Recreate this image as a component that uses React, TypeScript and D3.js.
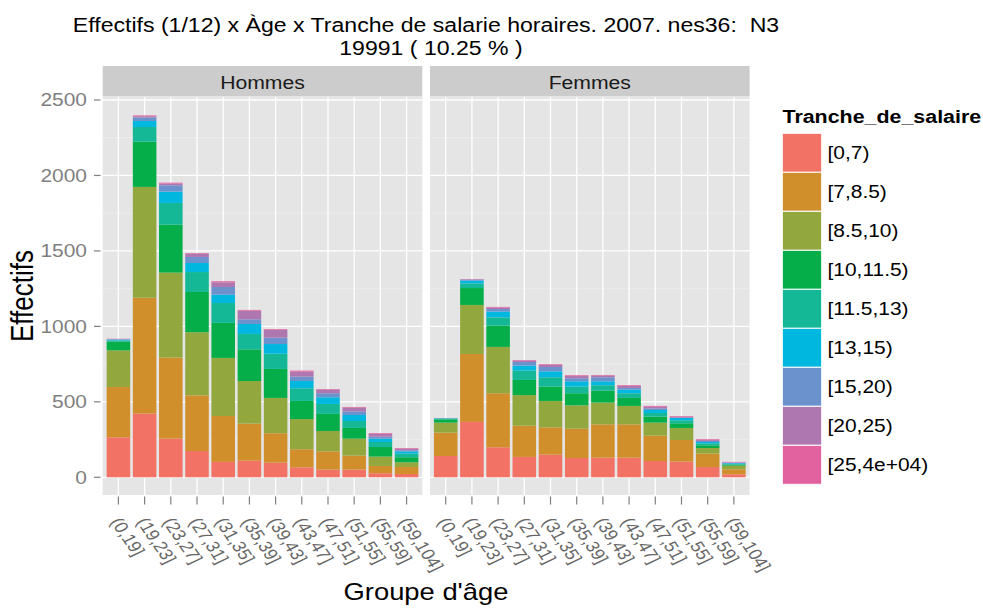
import React from "react";
import * as d3 from "d3";

const ageGroups = ["(0,19]", "(19,23]", "(23,27]", "(27,31]", "(31,35]", "(35,39]", "(39,43]", "(43,47]", "(47,51]", "(51,55]", "(55,59]", "(59,104]"];
const bands = ["[0,7)", "[7,8.5)", "[8.5,10)", "[10,11.5)", "[11.5,13)", "[13,15)", "[15,20)", "[20,25)", "[25,4e+04)"];
const sexes = ["Hommes", "Femmes"];
const yTicks = [0, 500, 1000, 1500, 2000, 2500];
const yMinor = [250, 750, 1250, 1750, 2250];

// Hommes, one array per salary band, in age-group order
const hommes_0_7 = [265, 422, 256, 174, 102, 110, 97, 66, 51, 51, 27, 22];
const hommes_7_85 = [333, 768, 537, 369, 304, 246, 195, 120, 121, 93, 48, 46];
const hommes_85_10 = [243, 734, 563, 418, 385, 282, 234, 200, 135, 112, 62, 31];
const hommes_10_115 = [58, 300, 318, 267, 232, 210, 192, 120, 113, 71, 64, 34];
const hommes_115_13 = [8, 97, 144, 132, 132, 102, 101, 84, 66, 46, 33, 24];
const hommes_13_15 = [5, 40, 75, 60, 55, 66, 64, 48, 44, 40, 22, 15];
const hommes_15_20 = [3, 24, 42, 40, 51, 31, 42, 29, 27, 24, 13, 7];
const hommes_20_25 = [2, 7, 11, 22, 31, 57, 51, 33, 24, 25, 18, 11];
const hommes_25_max = [1, 6, 6, 4, 7, 5, 5, 7, 4, 4, 5, 4];

// Femmes
const femmes_0_7 = [141, 367, 199, 135, 150, 128, 130, 130, 108, 104, 68, 20];
const femmes_7_85 = [155, 450, 358, 207, 181, 194, 221, 221, 168, 143, 89, 33];
const femmes_85_10 = [66, 325, 307, 203, 175, 155, 144, 122, 86, 80, 37, 24];
const femmes_10_115 = [22, 112, 141, 100, 95, 80, 79, 53, 40, 31, 18, 7];
const femmes_115_13 = [4, 31, 55, 62, 62, 44, 36, 31, 24, 20, 13, 4];
const femmes_13_15 = [3, 18, 38, 33, 39, 35, 26, 24, 20, 15, 9, 5];
const femmes_15_20 = [1, 7, 17, 24, 29, 20, 27, 11, 11, 2, 7, 4];
const femmes_20_25 = [1, 2, 9, 9, 13, 15, 11, 13, 11, 7, 6, 2];
const femmes_25_max = [0, 2, 5, 4, 5, 5, 4, 5, 5, 4, 5, 3];

const hommesSeries = [hommes_0_7, hommes_7_85, hommes_85_10, hommes_10_115, hommes_115_13, hommes_13_15, hommes_15_20, hommes_20_25, hommes_25_max];
const femmesSeries = [femmes_0_7, femmes_7_85, femmes_85_10, femmes_10_115, femmes_115_13, femmes_13_15, femmes_15_20, femmes_20_25, femmes_25_max];

const colors = ["#F27366", "#D18F2C", "#92A83F", "#05AE48", "#14B796", "#00B7E0", "#6B92CC", "#AE77B0", "#E2629F"];

const W = 983;
const H = 609;
const SX = 1.19;
const FONT = "'Liberation Sans', Arial, Helvetica, sans-serif";

const panelW = 319.6;
const panelX = [102.7, 430];
const panelTop = 97;
const panelBottom = 495;
const stripTop = 66;

function buildRows(series: number[][]) {
  return ageGroups.map((g, i) => {
    const row: any = { age: g };
    bands.forEach((b, j) => (row[b] = series[j][i]));
    return row;
  });
}

function Txt(props: any) {
  const { x, y, size, anchor = "start", weight = "normal", fill = "#000", rot = 0, baseline = "auto", children } = props;
  return (
    <text
      transform={`translate(${x},${y}) scale(${SX},1) rotate(${rot})`}
      fontSize={size}
      fontFamily={FONT}
      fontWeight={weight}
      textAnchor={anchor}
      dominantBaseline={baseline}
      fill={fill}
      style={{ whiteSpace: "pre" }}
    >
      {children}
    </text>
  );
}

export default function App() {
  const y = d3.scaleLinear().domain([-117.3, 2519.9]).range([panelBottom, panelTop]);
  const stack = d3.stack<any>().keys(bands);
  const datasets = [stack(buildRows(hommesSeries)), stack(buildRows(femmesSeries))];

  return (
    <svg width={W} height={H} style={{ position: "absolute", left: 0, top: 0, background: "#fff" }}>
      <rect x={0} y={0} width={W} height={H} fill="#fff" />
      {/* Title */}
      <Txt x={426} y={32} size={19.4} anchor="middle">{"Effectifs (1/12) x Àge x Tranche de salarie horaires. 2007. nes36:\u00A0 N3"}</Txt>
      <Txt x={431} y={55} size={19.4} anchor="middle">19991 ( 10.25 % )</Txt>

      {sexes.map((s, p) => {
        const x0 = panelX[p];
        const x = d3.scaleBand().domain(ageGroups).range([x0, x0 + panelW]).paddingInner(0.1).paddingOuter(0.15);
        const series = datasets[p];
        return (
          <g key={s}>
            <rect x={x0} y={stripTop} width={panelW} height={panelTop - stripTop - 0.5} fill="#CCCCCC" />
            <Txt x={x0 + panelW / 2} y={88.5} size={17.8} anchor="middle" fill="#1a1a1a">{s}</Txt>
            <rect x={x0} y={panelTop} width={panelW} height={panelBottom - panelTop} fill="#E5E5E5" />
            {yMinor.map((t) => (
              <line key={"mi" + t} x1={x0} x2={x0 + panelW} y1={y(t)} y2={y(t)} stroke="#F2F2F2" strokeWidth={0.6} />
            ))}
            {yTicks.map((t) => (
              <line key={"ma" + t} x1={x0} x2={x0 + panelW} y1={y(t)} y2={y(t)} stroke="#fff" strokeWidth={1.3} />
            ))}
            {ageGroups.map((g) => {
              const cx = (x(g) as number) + x.bandwidth() / 2;
              return <line key={"v" + g} x1={cx} x2={cx} y1={panelTop} y2={panelBottom} stroke="#fff" strokeWidth={1.3} />;
            })}
            {series.map((ser, j) => (
              <g key={"s" + j} fill={colors[j]}>
                {ser.map((d: any) => (
                  <rect
                    key={d.data.age}
                    x={x(d.data.age)}
                    width={x.bandwidth()}
                    y={y(d[1])}
                    height={Math.max(0, y(d[0]) - y(d[1]))}
                  />
                ))}
              </g>
            ))}
            {/* x ticks and labels */}
            {ageGroups.map((g) => {
              const cx = (x(g) as number) + x.bandwidth() / 2;
              return (
                <g key={"xt" + g}>
                  <line x1={cx} x2={cx} y1={panelBottom + 1.5} y2={panelBottom + 9.5} stroke="#7f7f7f" strokeWidth={1.2} />
                  <Txt x={cx - 3} y={519} size={16} rot={60} baseline="central" fill="#666">{g}</Txt>
                </g>
              );
            })}
          </g>
        );
      })}

      {/* y axis */}
      {yTicks.map((t) => (
        <g key={"yt" + t}>
          <line x1={94} x2={100.5} y1={y(t)} y2={y(t)} stroke="#7f7f7f" strokeWidth={1.2} />
          <Txt x={87} y={y(t)} size={17.6} anchor="end" baseline="central" fill="#7f7f7f">{t}</Txt>
        </g>
      ))}

      {/* axis titles */}
      <Txt x={22} y={296} size={26} anchor="middle" rot={-90} baseline="central">Effectifs</Txt>
      <Txt x={426} y={600} size={23} anchor="middle">Groupe d'âge</Txt>

      {/* legend */}
      <Txt x={782.5} y={123} size={18} weight="bold">Tranche_de_salaire</Txt>
      {bands.map((b, j) => (
        <g key={"lg" + b}>
          <rect x={782.3} y={133.3 + j * 39} width={39.4} height={39} fill={colors[j]} stroke="#fff" strokeWidth={1} />
          <Txt x={827.5} y={133.3 + j * 39 + 19.5} size={17.6} baseline="central">{b}</Txt>
        </g>
      ))}
    </svg>
  );
}
